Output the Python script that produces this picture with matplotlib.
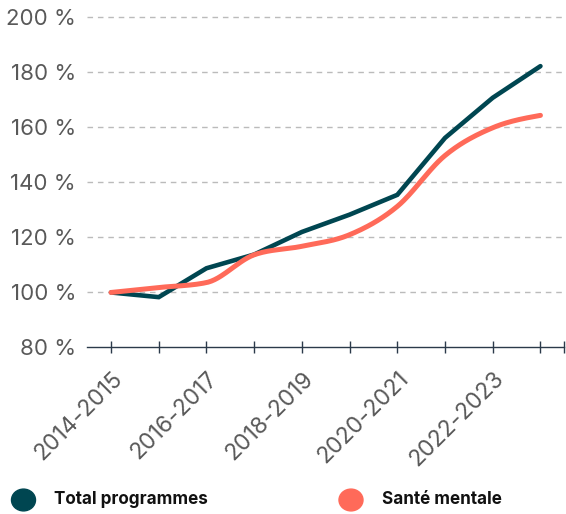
import matplotlib.pyplot as plt
import numpy as np

years = ["2014-2015", "2015-2016", "2016-2017", "2017-2018", "2018-2019",
         "2019-2020", "2020-2021", "2021-2022", "2022-2023", "2023-2024"]
total_programmes = [100.0, 98.3, 108.8, 113.8, 122.0, 128.3, 135.5, 156.2, 170.8, 182.3]
sante_mentale = [100.0, 101.8, 103.6, 113.7, 116.8, 121.0, 131.3, 149.8, 159.9, 164.4]
y_ticks = [80, 100, 120, 140, 160, 180, 200]

teal = "#004651"
coral = "#ff6a59"
label_grey = "#595959"
axis_col = "#2b3a4a"


def monotone_curve(x, y, n=30):
    # monotone cubic (Fritsch-Carlson), like d3 curveMonotoneX
    x = np.asarray(x, float)
    y = np.asarray(y, float)
    h = np.diff(x)
    s = np.diff(y) / h
    m = np.zeros_like(y)
    for i in range(1, len(y) - 1):
        if s[i - 1] * s[i] <= 0:
            m[i] = 0
        else:
            p = (s[i - 1] * h[i] + s[i] * h[i - 1]) / (h[i - 1] + h[i])
            m[i] = np.sign(s[i - 1]) * min(abs(s[i - 1]), abs(s[i]), 0.5 * abs(p)) * 2
    m[0] = (3 * s[0] - m[1]) / 2
    m[-1] = (3 * s[-1] - m[-2]) / 2
    xs, ys = [], []
    for i in range(len(x) - 1):
        t = np.linspace(0, 1, n)
        h00 = 2 * t**3 - 3 * t**2 + 1
        h10 = t**3 - 2 * t**2 + t
        h01 = -2 * t**3 + 3 * t**2
        h11 = t**3 - t**2
        xs.append(x[i] + t * h[i])
        ys.append(h00 * y[i] + h10 * h[i] * m[i] + h01 * y[i + 1] + h11 * h[i] * m[i + 1])
    return np.concatenate(xs), np.concatenate(ys)


plt.rcParams['font.family'] = ['Inter', 'DejaVu Sans']

fig = plt.figure(figsize=(5.66, 5.14), dpi=100)
ax = fig.add_axes([0.154, 0.324, 0.843, 0.642])

x = np.arange(len(years))
ax.plot(x, total_programmes, color=teal, lw=3.3, solid_capstyle='round',
        solid_joinstyle='miter', zorder=3)
xs, ys = monotone_curve(x, sante_mentale)
ax.plot(xs, ys, color=coral, lw=3.6, solid_capstyle='round', zorder=4)

ax.set_xlim(-0.5, len(years) - 0.5)
ax.set_ylim(80, 200)

# .. grid ..
for v in y_ticks[1:]:
    ax.axhline(v, color="#bbbbbb", lw=1, ls=(0, (4, 3.5)), zorder=1, clip_on=False)

for side in ["top", "right", "left"]:
    ax.spines[side].set_visible(False)
ax.spines["bottom"].set_color(axis_col)
ax.spines["bottom"].set_linewidth(1)

ax.set_yticks(y_ticks)
ax.set_yticklabels([f"{v} %" for v in y_ticks])
ax.tick_params(axis='y', length=0, pad=8, labelsize=16, labelcolor=label_grey)

ax.set_xticks(x)
ax.set_xticklabels([y if i % 2 == 0 else "" for i, y in enumerate(years)])
ax.set_xticks([len(years) - 0.5], minor=True)
ax.tick_params(axis='x', which='both', direction='inout', length=9, width=1,
               color=axis_col, labelsize=16.5, labelcolor=label_grey, pad=10)
for lab in ax.get_xticklabels():
    lab.set_rotation(45)
    lab.set_ha('right')
    lab.set_va('top')
    lab.set_rotation_mode('anchor')

# .. legend ..
fig.patches.append(plt.Circle((23.5 / 566, 1 - 500 / 514), 12 / 566,
                              transform=fig.transFigure, color=teal,
                              figure=fig))
fig.patches.append(plt.Circle((351 / 566, 1 - 500 / 514), 12 / 566,
                              transform=fig.transFigure, color=coral,
                              figure=fig))
fig.text(54 / 566, 1 - 500 / 514, "Total programmes", fontsize=12.3,
         fontweight='bold', color="#111111", va='center')
fig.text(382 / 566, 1 - 500 / 514, "Santé mentale", fontsize=12.3,
         fontweight='bold', color="#111111", va='center')

plt.savefig("out.png", dpi=100)
